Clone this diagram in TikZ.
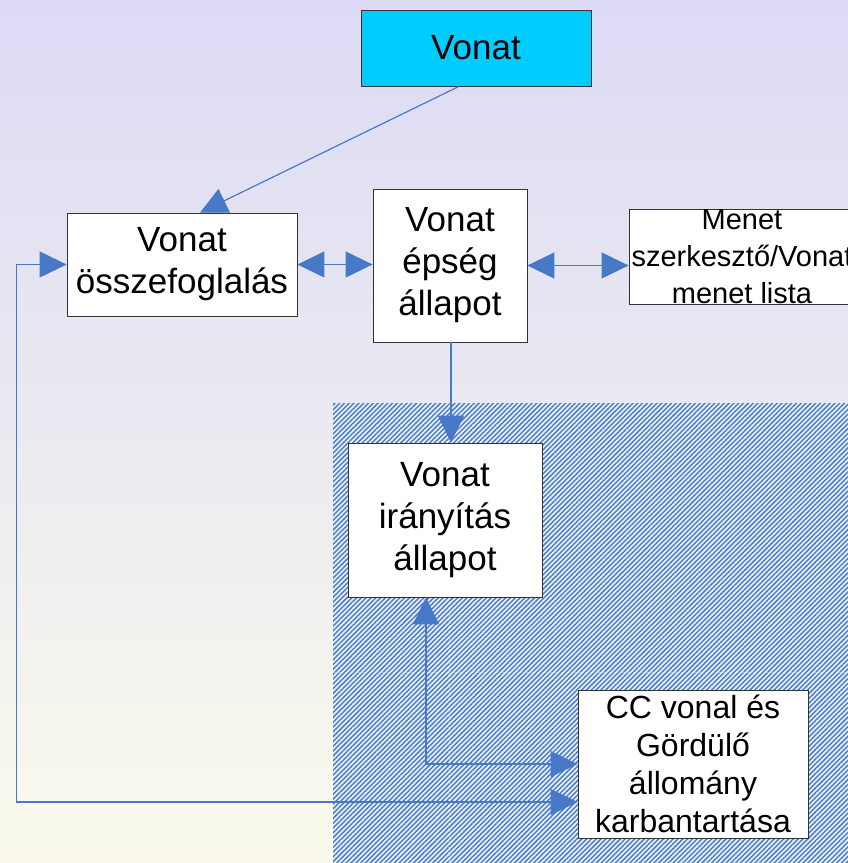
\documentclass[tikz,border=0pt]{standalone}
\usepackage{fontspec}
\setmainfont{Liberation Sans}
\usetikzlibrary{calc,arrows.meta,patterns.meta}
\definecolor{conncol}{RGB}{72,120,200}
\definecolor{hatchcol}{RGB}{74,124,204}
\definecolor{hatchbg}{RGB}{234,240,242}
\definecolor{topcol}{RGB}{220,218,245}
\definecolor{botcol}{RGB}{250,250,236}
\definecolor{headcol}{RGB}{0,204,255}
\tikzset{
	box/.style={draw=black!80, line width=0.8pt, fill=white, align=center, inner sep=0pt,
		font=\fontsize{35}{42}\selectfont},
	conn/.style={draw=conncol, line width=1.2pt, -{Triangle[length=27pt,width=26pt]}},
	twoway/.style={conn, {Triangle[length=27pt,width=26pt]}-{Triangle[length=27pt,width=26pt]}}
}

\begin{document}
\begin{tikzpicture}[x=1pt, y=-1pt]
			%%%%% START %%%%%
			\useasboundingbox (0, 0) rectangle (848, 863);
			\shade[top color=topcol, bottom color=botcol] (0, 0) rectangle (848, 863);
			
			% hatched area
			\fill[hatchbg] (333, 403) rectangle (848, 863);
			\fill[pattern={Lines[angle=45, distance=3.4pt, line width=1.45pt]}, pattern color=hatchcol] (333, 403) rectangle (848, 863);
			\draw[white, opacity=0.35, line width=0.6pt, dash pattern=on 3pt off 3pt] (449, 403) -- (449, 863);
			\draw[white, opacity=0.35, line width=0.6pt, dash pattern=on 3pt off 3pt] (333, 672) -- (848, 672);
			
			\node[box, fill=headcol, minimum width=230pt, minimum height=76pt] (vonat) at (476, 48) {Vonat};
			\node[box, minimum width=230pt, minimum height=103pt] (osszef) at (182, 264.5) {Vonat\\összefoglalás};
			\node[box, minimum width=154pt, minimum height=153pt] (epseg) at (450, 265.5) {Vonat\\épség\\állapot};
			\node[box, minimum width=226pt, minimum height=90pt, font=\fontsize{29}{37}\selectfont] (menet) at (742, 257) {Menet\\szerkesztő/Vonat\\menet lista};
			\node[box, minimum width=194pt, minimum height=154pt] (iranyitas) at (445, 520) {Vonat\\irányítás\\állapot};
			\node[box, minimum width=230pt, minimum height=148pt, font=\fontsize{32}{38}\selectfont] (cc) at (693, 764) {CC vonal és\\Gördülő\\állomány\\karbantartása};
			
			\draw[conn] ([xshift=-17pt]vonat.south) -- ([xshift=18pt]osszef.north);
			\draw[twoway] (osszef.east) -- (osszef.east -| epseg.west);
			\draw[twoway] (epseg.east) -- (epseg.east -| menet.west);
			\draw[conn] ([xshift=1pt]epseg.south) -- ([xshift=1pt]epseg.south |- iranyitas.north);
			\draw[twoway] ([xshift=-19pt]iranyitas.south) |- (cc.west);
			\draw[twoway] ([yshift=-38pt]cc.west) -- ++(-561, 0) |- (osszef.west);
			
			%%%%% END %%%%%
\end{tikzpicture}
\end{document}
